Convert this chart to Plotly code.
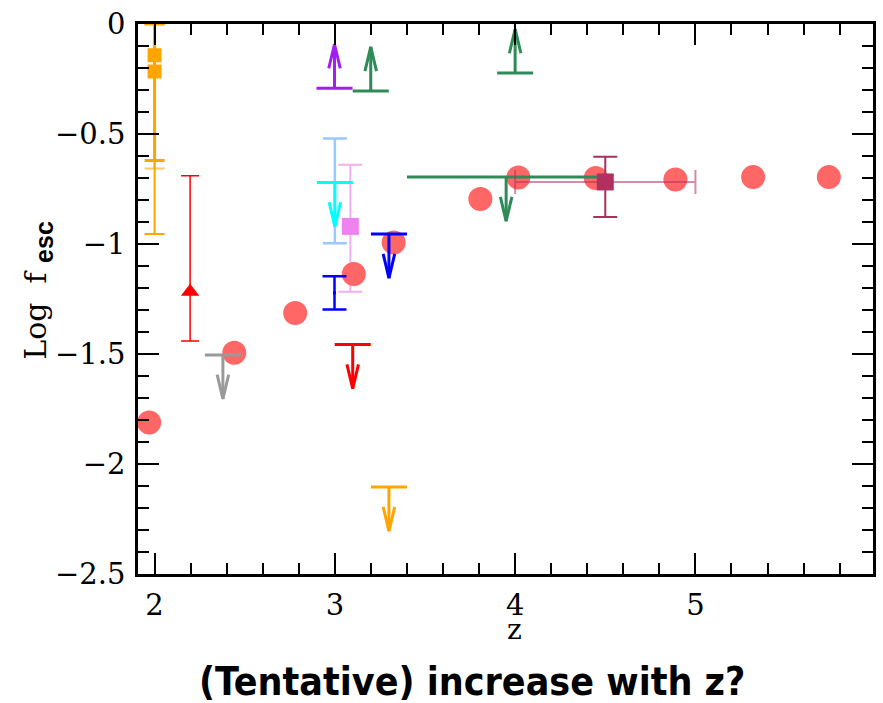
import plotly.graph_objects as go

# ---------------- data ----------------
# main sample (red circles)
circ_z = [1.97, 2.442, 2.78, 3.105, 3.326, 3.807, 4.018, 4.447, 4.889, 5.32, 5.74]
circ_y = [-1.811, -1.494, -1.314, -1.136, -0.993, -0.795, -0.698, -0.70, -0.707, -0.696, -0.696]

# orange squares with asymmetric errors
or_z = [2.0, 2.0]
or_y = [-0.142, -0.216]
or_hi = [0.0, 0.0]
or_lo = [-0.62, -0.955]
or_extra_lo = [-0.657]          # additional thin lower cap

# red triangle
tri_z = [2.197]
tri_y = [-1.217]
tri_hi = [-0.69]
tri_lo = [-1.441]

# light-blue error range (no marker)
lb_z = [3.0]
lb_y = [-0.72]
lb_hi = [-0.521]
lb_lo = [-0.997]

# violet square
vi_z = [3.086]
vi_y = [-0.92]
vi_hi = [-0.64]
vi_lo = [-1.217]

# blue small point
bl_z = [2.998]
bl_y = [-1.222]
bl_hi = [-1.147]
bl_lo = [-1.298]

# maroon square with x and y errors
ma_z = [4.50]
ma_y = [-0.718]
ma_hi = [-0.603]
ma_lo = [-0.877]
ma_zlo = [4.0]
ma_zhi = [5.0]

# limits: z, value, kind ('upper' -> arrow down, 'lower' -> arrow up), cap z-range
lim_name = ["gray", "cyan", "blue", "red", "orange", "green", "purple", "green", "green"]
lim_z = [2.379, 3.0, 3.30, 3.099, 3.30, 3.95, 2.998, 3.199, 4.0]
lim_y = [-1.504, -0.72, -0.955, -1.457, -2.105, -0.696, -0.292, -0.304, -0.223]
lim_kind = ["upper", "upper", "upper", "upper", "upper", "upper", "lower", "lower", "lower"]
lim_zlo = [None, None, None, None, None, 3.40, None, None, None]
lim_zhi = [None, None, None, None, None, 4.50, None, None, None]

x_ticks = [2, 3, 4, 5]
y_ticks = [0, -0.5, -1, -1.5, -2, -2.5]
y_ticktext = ["0", "\u22120.5", "\u22121", "\u22121.5", "\u22122", "\u22122.5"]

# ---------------- style ----------------
COL = {
    "gray": "#9a9a9a", "cyan": "#00FFFF", "blue": "#0000FF", "red": "#FF0000",
    "orange": "#FFA500", "green": "#2E8B57", "purple": "#A020F0",
}
CAP_HALF = 0.1      # half width of limit caps (z units)
ARROW_LEN = 0.2     # arrow length (log units)
HEAD_HW = 0.032     # arrow head half width (z units)
HEAD_LEN = 0.11     # arrow head length (log units)

fig = go.Figure()

def err(y, hi, lo):
    return [h - v for v, h in zip(y, hi)], [v - l for v, l in zip(y, lo)]

# violet square (drawn below circles)
p, m = err(vi_y, vi_hi, vi_lo)
fig.add_trace(go.Scatter(x=vi_z, y=vi_y, mode="markers",
    marker=dict(symbol="square", size=17, color="#EE82EE"),
    error_y=dict(type="data", symmetric=False, array=p, arrayminus=m,
                 color="rgba(238,130,238,0.65)", thickness=2, width=12)))

# light blue
p, m = err(lb_y, lb_hi, lb_lo)
fig.add_trace(go.Scatter(x=lb_z, y=lb_y, mode="markers",
    marker=dict(size=1, color="rgba(0,0,0,0)"),
    error_y=dict(type="data", symmetric=False, array=p, arrayminus=m,
                 color="#99C9FF", thickness=2.5, width=12)))

# circles
fig.add_trace(go.Scatter(x=circ_z, y=circ_y, mode="markers",
    marker=dict(symbol="circle", size=24, color="#FF6666", line=dict(width=0))))

# orange squares
p, m = err(or_y, or_hi, or_lo)
fig.add_trace(go.Scatter(x=or_z[:1], y=or_y[:1], mode="markers",
    marker=dict(symbol="square", size=14, color="#FFA500"),
    error_y=dict(type="data", symmetric=False, array=p[:1], arrayminus=m[:1],
                 color="#FFA500", thickness=3, width=10)))
fig.add_trace(go.Scatter(x=or_z[1:], y=or_y[1:], mode="markers",
    marker=dict(symbol="square", size=14, color="#FFA500"),
    error_y=dict(type="data", symmetric=False, array=p[1:], arrayminus=m[1:],
                 color="#FFA500", thickness=2, width=10)))
p2, m2 = err(or_y[1:], or_hi[1:], or_extra_lo)
fig.add_trace(go.Scatter(x=or_z[1:], y=or_y[1:], mode="markers",
    marker=dict(size=1, color="rgba(0,0,0,0)"),
    error_y=dict(type="data", symmetric=False, array=p2, arrayminus=m2,
                 color="rgba(255,165,0,0.6)", thickness=2, width=10)))

# red triangle
p, m = err(tri_y, tri_hi, tri_lo)
fig.add_trace(go.Scatter(x=tri_z, y=tri_y, mode="markers",
    marker=dict(symbol="triangle-up", size=16, color="#FF0000"),
    error_y=dict(type="data", symmetric=False, array=p, arrayminus=m,
                 color="#FF0000", thickness=1.5, width=9)))

# blue
p, m = err(bl_y, bl_hi, bl_lo)
fig.add_trace(go.Scatter(x=bl_z, y=bl_y, mode="markers",
    marker=dict(symbol="square", size=3, color="#0000FF"),
    error_y=dict(type="data", symmetric=False, array=p, arrayminus=m,
                 color="#0000FF", thickness=2.5, width=12)))

# limits
groups = {}
for name, z, y, kind, zl, zh in zip(lim_name, lim_z, lim_y, lim_kind, lim_zlo, lim_zhi):
    xs, ys = groups.setdefault(name, ([], []))
    d = -1 if kind == "upper" else 1
    a = z - CAP_HALF if zl is None else zl
    b = z + CAP_HALF if zh is None else zh
    tip = y + d * ARROW_LEN
    xs += [a, b, None, z, z, None, z - HEAD_HW, z, z + HEAD_HW, None]
    ys += [y, y, None, y, tip, None, tip - d * HEAD_LEN, tip, tip - d * HEAD_LEN, None]

for name, (xs, ys) in groups.items():
    fig.add_trace(go.Scatter(x=xs, y=ys, mode="lines",
        line=dict(color=COL[name], width=3), connectgaps=False))

# maroon square
p, m = err(ma_y, ma_hi, ma_lo)
fig.add_trace(go.Scatter(x=ma_z, y=ma_y, mode="markers",
    marker=dict(symbol="square", size=17, color="#B03060"),
    error_y=dict(type="data", symmetric=False, array=p, arrayminus=m,
                 color="#A8305E", thickness=2, width=12),
    error_x=dict(type="data", symmetric=False,
                 array=[h - v for v, h in zip(ma_z, ma_zhi)],
                 arrayminus=[v - l for v, l in zip(ma_z, ma_zlo)],
                 color="rgba(176,48,96,0.55)", thickness=2, width=12)))

tickfont = dict(family="DejaVu Serif", size=29, color="black")
axis_common = dict(showline=True, linecolor="black", linewidth=2.5, mirror="ticks",
                   ticks="inside", tickcolor="black", tickwidth=2, ticklen=21,
                   showgrid=False, zeroline=False, tickfont=tickfont)

fig.update_layout(
    width=883, height=703,
    margin=dict(l=138, r=7, t=17, b=129),
    paper_bgcolor="white", plot_bgcolor="white",
    showlegend=False,
    xaxis=dict(range=[1.908, 5.985], tickmode="array", tickvals=x_ticks,
               minor=dict(dtick=0.2, ticks="inside", ticklen=11, tickwidth=2, tickcolor="black"),
               ticklabelstandoff=3, **axis_common),
    yaxis=dict(range=[-2.5, 0], tickmode="array", tickvals=y_ticks, ticktext=y_ticktext,
               minor=dict(dtick=0.1, ticks="inside", ticklen=11, tickwidth=2, tickcolor="black"),
               ticklabelstandoff=4, **axis_common),
    annotations=[
        dict(text="z", xref="paper", yref="paper", x=0.512, y=-0.1,
             showarrow=False, font=dict(family="DejaVu Serif", size=28, color="black"),
             xanchor="center", yanchor="middle"),
        dict(text="Log&nbsp;&nbsp;f&nbsp;<sub><span style='font-family:Liberation Sans;font-weight:bold;font-size:25px'>esc</span></sub>",
             xref="paper", yref="paper", x=-0.136, y=0.515, textangle=-90,
             showarrow=False, font=dict(family="DejaVu Serif", size=30, color="black"),
             xanchor="center", yanchor="middle"),
        dict(text="<b>(Tentative) increase with z?</b>", xref="paper", yref="paper",
             x=0.455, y=-0.196, showarrow=False,
             font=dict(family="Liberation Sans Narrow, DejaVu Sans Condensed, Liberation Sans",
                       size=39, color="black"),
             xanchor="center", yanchor="middle"),
    ],
)

fig.write_html("out.html")
